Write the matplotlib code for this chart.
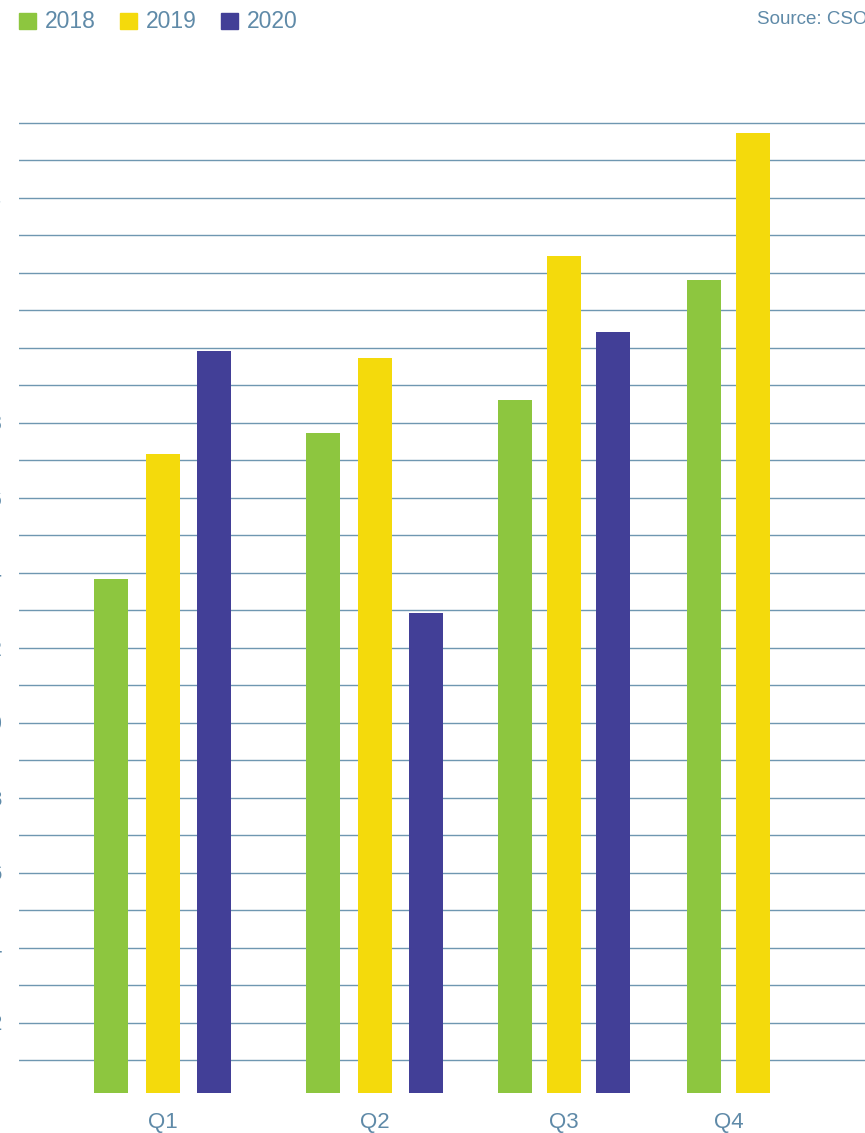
import numpy as np
import matplotlib
matplotlib.use('Agg')
import matplotlib.pyplot as plt
from matplotlib.patches import Rectangle

plt.rcParams['font.family'] = ['Liberation Sans', 'DejaVu Sans']

# quarterly values per year (2020 has no Q4 figure yet)
quarters = ['Q1', 'Q2', 'Q3', 'Q4']
years = ['2018', '2019', '2020']
v2018 = [13.83, 17.72, 18.60, 21.80]
v2019 = [17.16, 19.72, 22.44, 25.72]
v2020 = [19.91, 12.92, 20.41, None]
series = [v2018, v2019, v2020]
colors = ['#8DC63F', '#F4DA0C', '#423F97']

# layout of the groups along the x axis (axis units)
group_centers = [143.5, 355.5, 545.0, 709.5]
bar_step = [51.5, 51.5, 49.0, 48.5]
bar_w = 34

text_col = '#5F8AA8'
grid_col = '#6F97B1'

W, H = 865, 1133
fig = plt.figure(figsize=(W / 100, H / 100), dpi=100)

# axes box in pixels
left, right, top, bottom = 19, 865, 110, 1093
ax = fig.add_axes([left / W, 1 - bottom / H, (right - left) / W, (bottom - top) / H])

px_per_unit = 37.5
zero_px = 1097.5
ax.set_ylim((zero_px - bottom) / px_per_unit, (zero_px - top) / px_per_unit)
ax.set_xlim(0, right - left)

for qi, c in enumerate(group_centers):
    vals = [s[qi] for s in series]
    present = [(k, v) for k, v in enumerate(vals) if v is not None]
    n = len(present)
    for j, (k, v) in enumerate(present):
        x = c + (j - (n - 1) / 2) * bar_step[qi]
        ax.bar(x, v, width=bar_w, color=colors[k], zorder=3)

ticks = list(range(1, 27))
ax.set_yticks(ticks)
ax.set_yticklabels([str(t) if t % 2 == 0 else '' for t in ticks])
ax.yaxis.grid(True, color=grid_col, linewidth=1)
ax.set_axisbelow(True)
ax.tick_params(axis='y', length=0, pad=12.3, labelsize=16, labelcolor=text_col)

ax.set_xticks(group_centers)
ax.set_xticklabels(quarters)
ax.tick_params(axis='x', length=0, pad=14, labelsize=16, labelcolor=text_col)

for s in ax.spines.values():
    s.set_visible(False)

# legend row at the top
leg_x = [19, 120, 221]
for k, yr in enumerate(years):
    x0 = leg_x[k]
    fig.patches.append(Rectangle((x0 / W, 1 - 29 / H), 17 / W, 16 / H,
                                 transform=fig.transFigure, color=colors[k]))
    fig.text((x0 + 26) / W, 1 - 21 / H, yr, fontsize=16.5, color=text_col,
             ha='left', va='center')

fig.text(757 / W, 1 - 20 / H, 'Source: CSO', fontsize=13.5, color=text_col,
         ha='left', va='center')

fig.savefig('out.png', dpi=100)
